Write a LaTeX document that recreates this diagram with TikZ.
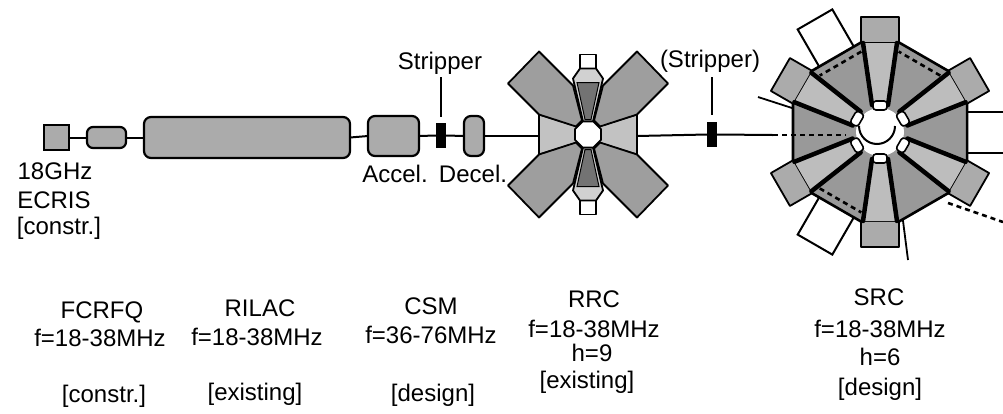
\documentclass[tikz,border=0pt]{standalone}
\usepackage{fontspec}
\setmainfont{Liberation Sans}
\begin{document}
\begin{tikzpicture}[x=1pt,y=-1pt,
  elem/.style={draw, line width=2.2pt, fill=black!33, inner sep=0pt, outer sep=0pt},
  lbl/.style={font=\fontsize{24}{28}\selectfont, anchor=base, inner sep=0pt},
  beam/.style={line width=2pt},
  dk/.style={fill=black!38},
  lt/.style={fill=black!24},
  edge/.style={line width=1.8pt, line join=round},
  thick edge/.style={line width=4.5pt, line cap=round},
  dotline/.style={line width=2.6pt, dash pattern=on 5pt off 4pt}]
\useasboundingbox (0,0) rectangle (1003,413);

% ---------- linear part ----------
\node[elem, minimum width=25, minimum height=25] (ecris) at (56.5,137.5) {};
\node[elem, rounded corners=6pt, minimum width=39, minimum height=21] (rfq) at (106.5,137.5) {};
\node[elem, rounded corners=7pt, minimum width=206, minimum height=41] (rilac) at (247,137.5) {};
\node[elem, rounded corners=7pt, minimum width=51, minimum height=40] (accel) at (393.5,136) {};
\node[draw, fill=black, line width=1pt, minimum width=9, minimum height=24, inner sep=0pt] (strip1) at (441,135.5) {};
\node[elem, rounded corners=7pt, minimum width=20, minimum height=40] (decel) at (474,136) {};
\node[draw, fill=black, line width=1pt, minimum width=9, minimum height=24, inner sep=0pt] (strip2) at (712,134.5) {};

\coordinate (rrcin) at (539,136);
\coordinate (rrcout) at (637,136);
\coordinate (srcin) at (773,135);
\coordinate (srcc) at (846,135);
\coordinate (s1top) at (441,77);
\coordinate (s1bot) at (441,117);
\coordinate (s2top) at (712,77);
\coordinate (s2bot) at (712,115);

\draw[beam] (ecris.east) -- (rfq.west);
\draw[beam] (rfq.east) -- (rilac.west);
\draw[beam] (rilac.east) -- (accel.west);
\draw[beam] (accel.east) -- (strip1.west);
\draw[beam] (strip1.east) -- (decel.west);
\draw[beam] (decel.east) -- (rrcin);
\draw[beam] (rrcout) -- (strip2.west);
\draw[beam] (strip2.east) -- (srcin);
\draw[beam] (s1top) -- (s1bot);
\draw[beam] (s2top) -- (s2bot);

% ---------- RRC ----------
\begin{scope}[shift={(588,134.5)}, y={(0pt,1pt)}]
  \foreach \s in {1,-1} {
    \draw[edge, lt] (\s*10,8) -- (\s*49,20) -- (\s*49,-20) -- (\s*10,-8) -- cycle;
    \draw[edge, fill=white] (-8,\s*66) rectangle (8,\s*80);
    \draw[edge, fill=black!18] (-8,\s*66) -- (8,\s*66) -- (15,\s*56) -- (5,\s*13) -- (-5,\s*13) -- (-15,\s*56) -- cycle;
    \draw[line width=1pt, fill=black!55] (-11,\s*52) -- (11,\s*52) -- (3,\s*15) -- (-3,\s*15) -- cycle;
  }
  \foreach \sx/\sy in {1/1,1/-1,-1/1,-1/-1} {
    \draw[edge, dk] (\sx*49,\sy*20) -- (\sx*80,\sy*51) -- (\sx*49,\sy*83) -- (\sx*15,\sy*49) -- (\sx*6,\sy*14) -- (\sx*12,\sy*8) -- cycle;
  }
  \draw[edge, fill=white] (22.5:14) -- (67.5:14) -- (112.5:14) -- (157.5:14) -- (202.5:14) -- (247.5:14) -- (292.5:14) -- (337.5:14) -- cycle;
\end{scope}

% ---------- SRC ----------
\begin{scope}[shift={(880,132)}, y={(0pt,1pt)}]
  \foreach \a in {120,240} {
    \draw[line width=2pt, fill=white, rotate=\a] (84,-20) rectangle (130,20);
  }
  \draw[edge] (87,20) -- (123,20);
  \draw[edge] (87,-21) -- (123,-21);
  \draw[edge] (-122,35) -- (-88,24);
  \draw[edge] (28,-128) -- (22,-81);
  \draw[line width=2.6pt, line join=round, fill=black!40] (90:100.5) -- (30:100.5) -- (-30:100.5) -- (-90:100.5) -- (-150:100.5) -- (150:100.5) -- cycle;
  \foreach \a in {60,120,240} {
    \draw[dotline, rotate=\a] (79,-24) -- (79,24);
  }
  \foreach \a in {90,30,-30,-90,-150,150} {
    \begin{scope}[rotate=\a]
      \draw[edge, fill=black!33] (89,-19) rectangle (115,19);
      \fill[black!26] (27,-8) -- (89,-17) -- (89,17) -- (27,8) -- cycle;
      \draw[thick edge] (27,-8) -- (89,-17);
      \draw[thick edge] (27,8) -- (89,17);
    \end{scope}
  }
  \fill[white] (0,0) circle (24);
  \foreach \a in {90,30,-30,-90,-150,150} {
    \draw[line width=1.6pt, fill=white, rounded corners=3pt, rotate=\a] (22,-7) rectangle (31,7);
  }
  \draw[line width=2pt] (-21,6) arc[start angle=180, end angle=360, radius=18];
  \draw[dotline] (68,-71) -- (123,-90);
\end{scope}
\draw[dotline] (srcin) -- (srcc);

% ---------- labels ----------
\node[lbl] (t18) at (55,179) {18GHz};
\node[lbl] (tecr) at (54,208) {ECRIS};
\node[lbl] (tecc) at (59,234) {[constr.]};
\node[lbl] (tstr1) at (440,69) {Stripper};
\node[lbl] (tstr2) at (710,67) {(Stripper)};
\node[lbl] (tacc) at (395,182) {Accel.};
\node[lbl] (tdec) at (473,182) {Decel.};

\node[lbl] (n1) at (102,318) {FCRFQ};
\node[lbl] (f1) at (100,346) {f=18-38MHz};
\node[lbl] (s1) at (104,402) {[constr.]};

\node[lbl] (n2) at (260,316) {RILAC};
\node[lbl] (f2) at (257,345) {f=18-38MHz};
\node[lbl] (s2) at (255,400) {[existing]};

\node[lbl] (n3) at (431,314) {CSM};
\node[lbl] (f3) at (431,343) {f=36-76MHz};
\node[lbl] (s3) at (433,401) {[design]};

\node[lbl] (n4) at (594,307) {RRC};
\node[lbl] (f4) at (594,337) {f=18-38MHz};
\node[lbl] (h4) at (592,361) {h=9};
\node[lbl] (s4) at (587,388) {[existing]};

\node[lbl] (n5) at (879,305) {SRC};
\node[lbl] (f5) at (880,337) {f=18-38MHz};
\node[lbl] (h5) at (880,365) {h=6};
\node[lbl] (s5) at (880,395) {[design]};
\end{tikzpicture}
\end{document}
